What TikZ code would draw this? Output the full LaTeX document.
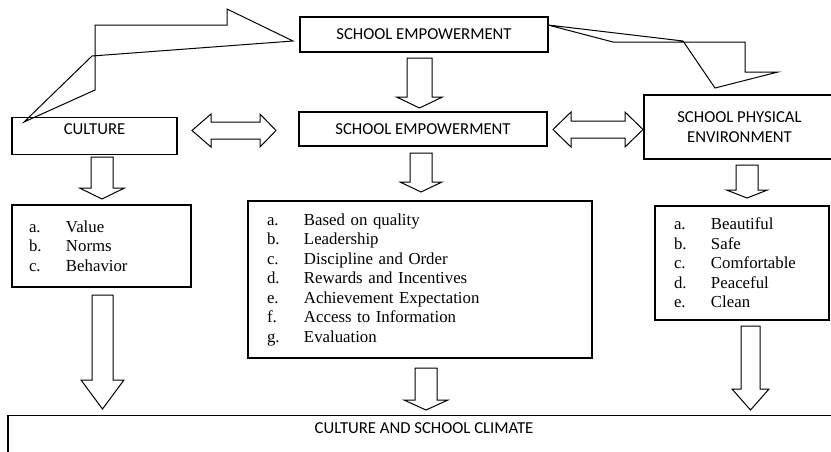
\documentclass[tikz,border=0pt]{standalone}
\usepackage{fontspec}
\setmainfont{Liberation Serif}
\newfontfamily\carlito{Carlito}
\usetikzlibrary{positioning}

\newcommand{\headfont}{\carlito\fontsize{16.7}{20}\selectfont}
\newcommand{\listfont}{\fontsize{16.8}{19.5}\selectfont}
\newcommand{\itm}[2]{\makebox[37pt][l]{#1}#2}

% x, top, head start, tip, half shaft, half head
\newcommand{\downblock}[6]{%
  \draw[blockarrow] (#1-#5,#2) -- (#1+#5,#2) -- (#1+#5,#3) -- (#1+#6,#3)
    -- (#1,#4) -- (#1-#6,#3) -- (#1-#5,#3) -- cycle;}
% left tip, left head, right head, right tip, y, half shaft, half head
\newcommand{\twinblock}[7]{%
  \draw[blockarrow] (#1,#5) -- (#2,#5-#7) -- (#2,#5-#6) -- (#3,#5-#6)
    -- (#3,#5-#7) -- (#4,#5) -- (#3,#5+#7) -- (#3,#5+#6) -- (#2,#5+#6)
    -- (#2,#5+#7) -- cycle;}

\begin{document}
\begin{tikzpicture}[x=1pt,y=-1pt,
  box/.style={draw, line width=1.2pt, inner sep=0pt, font=\headfont, align=center},
  listbox/.style={draw, line width=1.2pt, align=left, inner ysep=0pt, font=\listfont},
  blockarrow/.style={draw, line width=1pt, fill=white, line join=miter}]
  \clip (0,0) rectangle (831,451);

  % boxes
  \node[box, minimum width=248pt, minimum height=35pt] (topemp) at (424,34.5) {SCHOOL EMPOWERMENT};
  \node[box, anchor=north, minimum width=165pt, text height=16.4pt, text depth=20.6pt] (culture)
    at (94.5,117) {CULTURE};
  \node[box, minimum width=248pt, minimum height=34pt] (midemp) at (423,129) {SCHOOL EMPOWERMENT};
  \node[box, minimum width=191pt, minimum height=64pt] (physenv) at (739.5,127) {SCHOOL PHYSICAL\\ENVIRONMENT};

  \node[listbox, inner xsep=17pt, text width=145pt, minimum height=82pt] (culturelist) at (101.5,246)
    {\itm{a.}{Value}\\ \itm{b.}{Norms}\\ \itm{c.}{Behavior}};
  \node[listbox, inner xsep=19pt, text width=306pt, minimum height=157pt] (emplist) at (420,279.5)
    {\itm{a.}{Based on quality}\\ \itm{b.}{Leadership}\\ \itm{c.}{Discipline and Order}\\
     \itm{d.}{Rewards and Incentives}\\ \itm{e.}{Achievement Expectation}\\
     \itm{f.}{Access to Information}\\ \itm{g.}{Evaluation}};
  \node[listbox, inner xsep=19pt, text width=136pt, minimum height=114pt] (physlist) at (742,263)
    {\itm{a.}{Beautiful}\\ \itm{b.}{Safe}\\ \itm{c.}{Comfortable}\\ \itm{d.}{Peaceful}\\ \itm{e.}{Clean}};

  \node[box, anchor=north, minimum width=832pt, inner ysep=4pt, text height=13.5pt, text depth=30pt] (climate)
    at (424,415) {CULTURE AND SCHOOL CLIMATE};

  % bent arrows from the top box
  \draw[blockarrow, fill=none] (24,122) -- (95,90) -- (95,25) -- (227,25) -- (227,9)
    -- (293,41) -- (92,56) -- cycle;
  \draw[blockarrow, fill=none] (548,25) -- (683,41) -- (715,88) -- (778,72) -- (745,72)
    -- (745,42) -- (613,42) -- cycle;

  % down arrows
  \downblock{419.5}{58}{97}{108}{12.5}{23}
  \downblock{102}{157}{188}{199}{11}{22.5}
  \downblock{421}{153}{182}{192}{11}{21}
  \downblock{747}{165}{190}{198}{11}{20.5}
  \downblock{102.5}{295}{380}{409}{10.5}{21.5}
  \downblock{426}{368}{400}{410}{11}{22}
  \downblock{750.5}{326}{389}{410}{9.5}{18.5}

  % two-way arrows
  \twinblock{192}{211}{260}{276}{130.5}{8.5}{16.5}
  \twinblock{553}{571}{625}{643}{129.5}{8.5}{17.5}
\end{tikzpicture}
\end{document}
